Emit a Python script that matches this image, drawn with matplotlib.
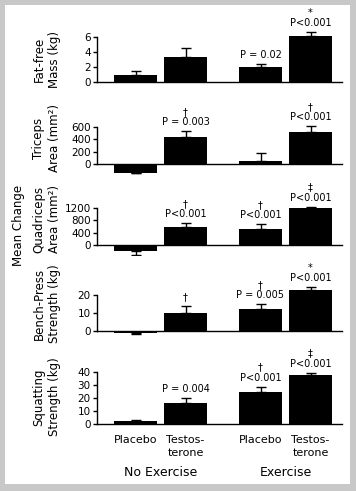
import matplotlib
matplotlib.use("Agg")
import matplotlib.pyplot as plt
import matplotlib.transforms as mtransforms
from matplotlib.patches import Rectangle
import numpy as np

plt.rcParams['font.family'] = ['DejaVu Sans']

# data (mean change, one-sided error)
groups = ['No Exercise', 'Exercise']
bar_labels = ['Placebo', 'Testos-\nterone', 'Placebo', 'Testos-\nterone']

ylabels = ['Fat-free\nMass (kg)', 'Triceps\nArea (mm²)', 'Quadriceps\nArea (mm²)',
           'Bench-Press\nStrength (kg)', 'Squatting\nStrength (kg)']

fat_free = [0.95, 3.3, 2.0, 6.1]
fat_free_err = [0.5, 1.25, 0.4, 0.5]
triceps = [-135, 440, 55, 515]
triceps_err = [0, 85, 120, 90]
quadriceps = [-190, 585, 520, 1190]
quadriceps_err = [105, 115, 150, 30]
bench = [-1.1, 9.9, 12.0, 22.8]
bench_err = [0.9, 3.8, 2.8, 1.5]
squat = [2.5, 16.4, 24.9, 37.9]
squat_err = [0.8, 3.6, 3.8, 1.6]

fat_sym = ['', '', '', '*']
fat_p = ['', '', 'P = 0.02', 'P<0.001']
tri_sym = ['', '†', '', '†']
tri_p = ['', 'P = 0.003', '', 'P<0.001']
quad_sym = ['', '†', '†', '‡']
quad_p = ['', 'P<0.001', 'P<0.001', 'P<0.001']
bench_sym = ['', '†', '†', '*']
bench_p = ['', '', 'P = 0.005', 'P<0.001']
squat_sym = ['', '', '†', '‡']
squat_p = ['', 'P = 0.004', 'P<0.001', 'P<0.001']

fat_ticks = [0, 2, 4, 6]
tri_ticks = [0, 200, 400, 600]
quad_ticks = [0, 400, 800, 1200]
bench_ticks = [0, 10, 20]
squat_ticks = [0, 10, 20, 30, 40]

panels = [
    (fat_free, fat_free_err, fat_sym, fat_p, fat_ticks),
    (triceps, triceps_err, tri_sym, tri_p, tri_ticks),
    (quadriceps, quadriceps_err, quad_sym, quad_p, quad_ticks),
    (bench, bench_err, bench_sym, bench_p, bench_ticks),
    (squat, squat_err, squat_sym, squat_p, squat_ticks),
]

# layout in pixels: row of y=0 and row of the top tick, and row of the label centre
W, H = 356, 491
rows = [(82.3, 36.7), (164.3, 126.7), (245.3, 207.7), (330.7, 295.0), (424.3, 372.3)]
label_rows = [59, 138, 219, 304, 397]
x_left, x_right = 97, 342
xpos = np.array([0, 1, 2.5, 3.5])
unit = 50.0
x0_px = 135.5
xlim = ((x_left - x0_px) / unit, (x_right - x0_px) / unit)

fig = plt.figure(figsize=(W / 100, H / 100), dpi=100)
fig.patch.set_facecolor('#c8c8c8')
fig.patches.append(Rectangle((5 / W, 1 - 484 / H), 345 / W, 479 / H,
                             transform=fig.transFigure, facecolor='white',
                             edgecolor='none', zorder=-10))

axes = []
for (vals, errs, syms, ps, ticks), (zero_px, top_px), lab, lrow in zip(panels, rows, ylabels, label_rows):
    top_val = ticks[-1]
    ppu = (zero_px - top_px) / top_val
    lows = [v - e if v < 0 else min(v, 0) for v, e in zip(vals, errs)]
    highs = [v + e if v >= 0 else 0 for v, e in zip(vals, errs)]
    ylo = min(min(lows) * 1.1, -0.02 * top_val)
    yhi = max(max(highs), top_val) * 1.05
    bot_px = zero_px - ylo * ppu
    topax_px = zero_px - yhi * ppu
    ax = fig.add_axes([x_left / W, 1 - bot_px / H, (x_right - x_left) / W,
                       (bot_px - topax_px) / H])
    ax.set_facecolor('none')
    ax.set_xlim(*xlim)
    ax.set_ylim(ylo, yhi)

    ax.bar(xpos, vals, width=0.86, color='black', zorder=2)
    lower = [e if v < 0 else 0 for v, e in zip(vals, errs)]
    upper = [e if v >= 0 else 0 for v, e in zip(vals, errs)]
    ax.errorbar(xpos, vals, yerr=[lower, upper], fmt='none', ecolor='black',
                elinewidth=1.0, capsize=3.5, capthick=1.0, zorder=3)

    for x, v, e, s, p in zip(xpos, vals, errs, syms, ps):
        txt = '\n'.join([t for t in (s, p) if t])
        if not txt:
            continue
        ax.annotate(txt, xy=(x, v + e), xytext=(0, 3), textcoords='offset points',
                    ha='center', va='bottom', fontsize=7, linespacing=1.05,
                    annotation_clip=False)

    for side in ('top', 'right'):
        ax.spines[side].set_visible(False)
    ax.spines['bottom'].set_position(('data', 0))
    ax.spines['left'].set_bounds(0, top_val)
    for side in ('left', 'bottom'):
        ax.spines[side].set_linewidth(1.0)
    ax.set_yticks(ticks)
    ax.tick_params(axis='y', length=3, width=1.0, pad=1.5, labelsize=7.5)
    ax.tick_params(axis='x', length=0)
    ax.set_xticks([])

    fig.text(47 / W, 1 - lrow / H, lab, rotation=90, ha='center',
             va='center', fontsize=8.5, linespacing=1.3, multialignment='center')
    axes.append(ax)

last = axes[-1]
last.set_xticks(xpos)
last.set_xticklabels(bar_labels, fontsize=8, linespacing=1.3)
last.tick_params(axis='x', length=0, pad=8)

trx = mtransforms.blended_transform_factory(last.transData, fig.transFigure)
last.text((xpos[0] + xpos[1]) / 2, 1 - 472 / H, groups[0], transform=trx,
          ha='center', va='center', fontsize=9)
last.text((xpos[2] + xpos[3]) / 2, 1 - 472 / H, groups[1], transform=trx,
          ha='center', va='center', fontsize=9)

fig.text(18.5 / W, 1 - 225 / H, 'Mean Change', rotation=90, ha='center',
         va='center', fontsize=8.5)

fig.savefig('out.png', dpi=100, facecolor=fig.get_facecolor())
